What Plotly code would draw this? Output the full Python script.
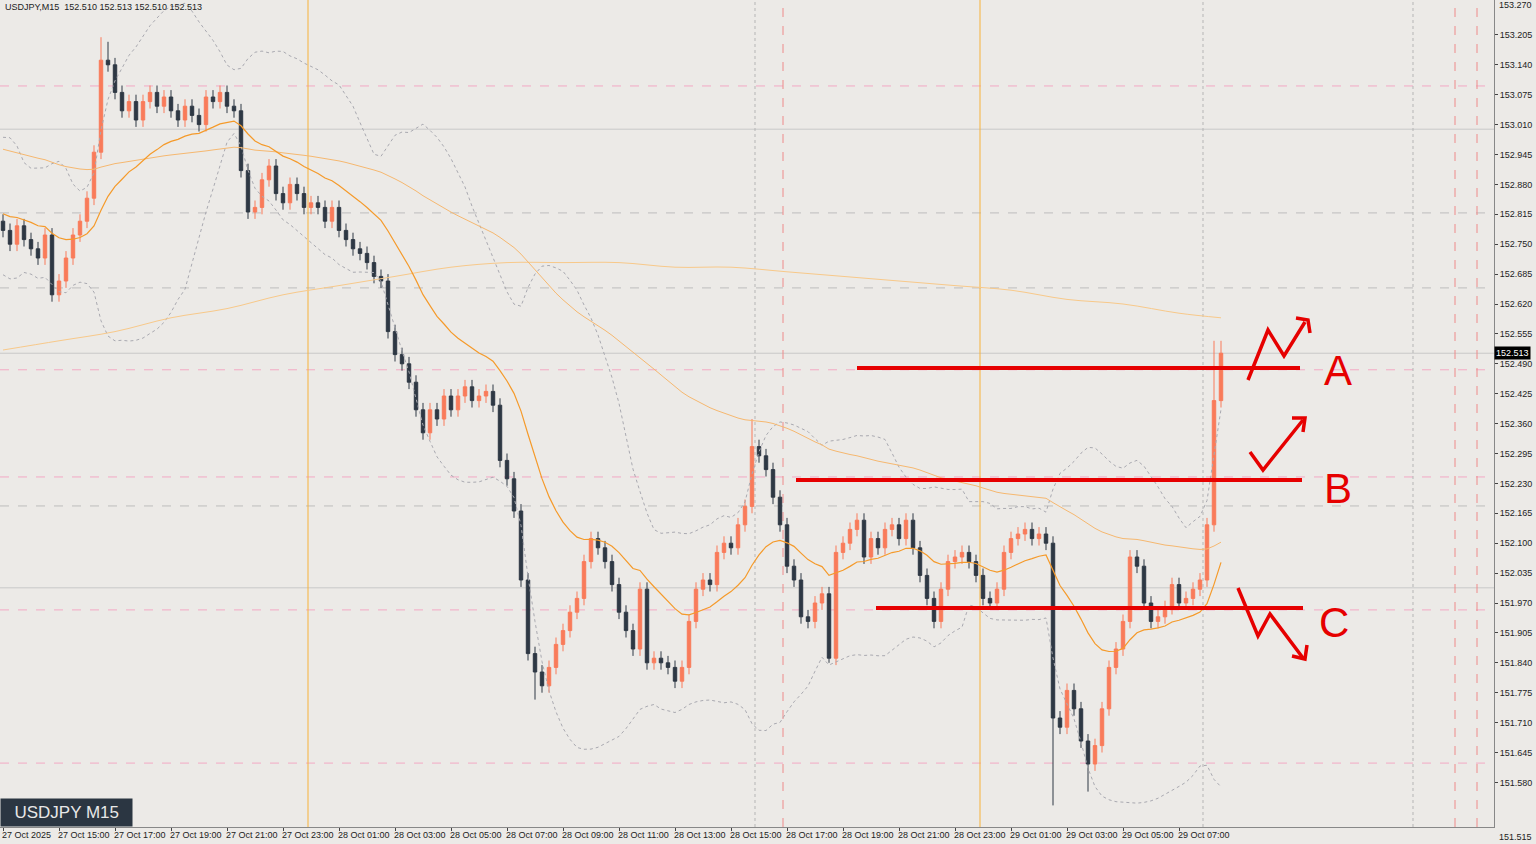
import numpy as np
import plotly.graph_objects as go

# USDJPY M15 closes (bar 0 = 27 Oct 13:00)
closes = [
    152.78, 152.75, 152.79, 152.76, 152.74, 152.72, 152.77, 152.64, 152.67, 152.72,
    152.77, 152.80, 152.85, 152.95, 153.15, 153.14, 153.08, 153.04, 153.06, 153.02,
    153.06, 153.08, 153.05, 153.07, 153.04, 153.02, 153.05, 153.03, 153.01, 153.07,
    153.06, 153.08, 153.05, 153.04, 152.91, 152.82, 152.83, 152.89, 152.92, 152.86,
    152.84, 152.88, 152.86, 152.83, 152.84, 152.83, 152.80, 152.83, 152.78, 152.76,
    152.74, 152.73, 152.71, 152.68, 152.67, 152.56, 152.51, 152.49, 152.45, 152.39,
    152.34, 152.39, 152.37, 152.42, 152.39, 152.42, 152.44, 152.41, 152.42, 152.43,
    152.40, 152.28, 152.24, 152.17, 152.02, 151.86, 151.82, 151.79, 151.83, 151.88,
    151.91, 151.95, 151.98, 152.06, 152.11, 152.09, 152.06, 152.01, 151.95, 151.91,
    151.87, 152.00, 151.84, 151.85, 151.84, 151.83, 151.80, 151.83, 151.93, 152.00,
    152.02, 152.01, 152.08, 152.10, 152.09, 152.14, 152.18, 152.31, 152.29, 152.26,
    152.20, 152.14, 152.05, 152.02, 151.94, 151.93, 151.97, 151.99, 151.85, 152.08,
    152.10, 152.13, 152.15, 152.07, 152.11, 152.09, 152.13, 152.14, 152.11, 152.15,
    152.09, 152.03, 151.98, 151.93, 152.00, 152.06, 152.07, 152.08, 152.06, 152.03,
    151.98, 151.97, 152.00, 152.08, 152.11, 152.12, 152.13, 152.11, 152.12, 152.10,
    151.72, 151.70, 151.78, 151.74, 151.67, 151.62, 151.66, 151.74, 151.83, 151.87,
    151.93, 152.07, 152.05, 151.97, 151.93, 151.94, 151.96, 152.01, 151.97, 151.98,
    152.00, 152.02, 152.14, 152.41, 152.513,
]
first_open = 152.80
wick = 0.015
high_overrides = {14: 153.20, 15: 153.19, 107: 152.37, 173: 152.54, 174: 152.54}
low_overrides = {76: 151.76, 150: 151.53, 155: 151.56, 118: 151.84}

# slow moving average, read every 8 bars
slow_x = [0, 8, 16, 24, 32, 40, 48, 56, 64, 72, 80, 88, 96, 104, 112, 120, 128, 136,
          144, 152, 160, 168, 174]
slow_ma = [152.52, 152.54, 152.56, 152.59, 152.61, 152.64, 152.66, 152.68, 152.70, 152.71,
           152.71, 152.71, 152.70, 152.70, 152.69, 152.68, 152.67, 152.66, 152.65, 152.63,
           152.62, 152.60, 152.59]

x_labels = ["27 Oct 2025", "27 Oct 15:00", "27 Oct 17:00", "27 Oct 19:00", "27 Oct 21:00",
            "27 Oct 23:00", "28 Oct 01:00", "28 Oct 03:00", "28 Oct 05:00", "28 Oct 07:00",
            "28 Oct 09:00", "28 Oct 11:00", "28 Oct 13:00", "28 Oct 15:00", "28 Oct 17:00",
            "28 Oct 19:00", "28 Oct 21:00", "28 Oct 23:00", "29 Oct 01:00", "29 Oct 03:00",
            "29 Oct 05:00", "29 Oct 07:00"]

price_ticks = [round(151.580 + 0.065 * k, 3) for k in range(26)]

pink_levels = [153.094, 152.477, 152.244, 151.955, 151.622]
grey_dash_levels = [152.818, 152.655, 152.181]
grey_solid_levels = [153.000, 152.513, 152.003]

W, H = 1536, 844
PLOT_R = 1494
PLOT_B = 827
FONT = "Liberation Sans"


def px_x(px):
    return (px - 3) / 7


def px_y(py):
    return 153.270 - (py - 5) / 460


closes = np.array(closes)
opens = np.concatenate([[first_open], closes[:-1]])
highs = np.maximum(opens, closes) + wick
lows = np.minimum(opens, closes) - wick
for k, v in high_overrides.items():
    highs[k] = v
for k, v in low_overrides.items():
    lows[k] = v
idx = np.arange(len(closes))


def ema(values, n, seed):
    out, prev = [], seed
    a = 2 / (n + 1)
    for v in values:
        prev = prev + a * (v - prev)
        out.append(prev)
    return np.array(out)


fast = ema(closes, 20, 152.82)
mid = ema(closes, 100, 152.96)
pre = np.concatenate([[152.85, 152.95, 153.0, 152.9, 152.8, 152.75, 152.7, 152.78, 152.9, 152.95,
                       152.88, 152.8, 152.82, 152.85, 152.8, 152.78, 152.75, 152.8, 152.82], closes])
bb_mid = np.array([pre[i:i + 20].mean() for i in range(len(closes))])
bb_sd = np.array([pre[i:i + 20].std() for i in range(len(closes))])

fig = go.Figure()
fig.add_trace(go.Scatter(x=idx, y=bb_mid + 2 * bb_sd, mode="lines",
                         line=dict(color="#A9A9B0", width=1, dash="dot"), hoverinfo="skip"))
fig.add_trace(go.Scatter(x=idx, y=bb_mid - 2 * bb_sd, mode="lines",
                         line=dict(color="#A9A9B0", width=1, dash="dot"), hoverinfo="skip"))
fig.add_trace(go.Scatter(x=slow_x, y=slow_ma, mode="lines", line_shape="spline",
                         line=dict(color="#F8C98A", width=1)))
fig.add_trace(go.Scatter(x=idx, y=mid, mode="lines", line=dict(color="#F6B870", width=1)))
fig.add_trace(go.Scatter(x=idx, y=fast, mode="lines", line=dict(color="#F59A2A", width=1.2)))
fig.add_trace(go.Candlestick(
    x=idx, open=opens, high=highs, low=lows, close=closes, whiskerwidth=0,
    increasing=dict(line=dict(color="#F97B5A", width=1), fillcolor="#F97B5A"),
    decreasing=dict(line=dict(color="#2E3844", width=1), fillcolor="#2E3844")))

shapes = []
for lv in pink_levels:
    shapes.append(dict(type="line", xref="paper", x0=0, x1=1, y0=lv, y1=lv,
                       line=dict(color="#F3A9C4", width=1, dash="dash"), layer="below"))
for lv in grey_dash_levels:
    shapes.append(dict(type="line", xref="paper", x0=0, x1=1, y0=lv, y1=lv,
                       line=dict(color="#BDBDBD", width=1, dash="dash"), layer="below"))
for lv in grey_solid_levels:
    shapes.append(dict(type="line", xref="paper", x0=0, x1=1, y0=lv, y1=lv,
                       line=dict(color="#C8C8C8", width=1), layer="below"))
for px in (308, 980):
    shapes.append(dict(type="line", yref="paper", x0=px_x(px), x1=px_x(px), y0=0, y1=1,
                       line=dict(color="#F7B23B", width=1), layer="below"))
for px in (755, 1203, 1413):
    shapes.append(dict(type="line", yref="paper", x0=px_x(px), x1=px_x(px), y0=0, y1=1,
                       line=dict(color="#B5B5B5", width=1, dash="dot"), layer="below"))
for px in (783, 1455, 1477):
    shapes.append(dict(type="line", yref="paper", x0=px_x(px), x1=px_x(px), y0=0, y1=1,
                       line=dict(color="#EE8A8A", width=1, dash="dash"), layer="below"))

# hand-drawn red marks
red = "#E60000"
for x0, x1, y in ((857, 1300, 368), (796, 1302, 480), (876, 1303, 608)):
    shapes.append(dict(type="line", x0=px_x(x0), x1=px_x(x1), y0=px_y(y), y1=px_y(y),
                       line=dict(color=red, width=4)))
strokes = [
    [(1248, 380), (1268, 330), (1284, 356), (1305, 322)],
    [(1296, 318), (1308, 320), (1310, 333)],
    [(1250, 452), (1263, 470), (1303, 420)],
    [(1292, 418), (1305, 418), (1303, 432)],
    [(1238, 588), (1258, 636), (1270, 614), (1303, 658)],
    [(1292, 656), (1305, 659), (1307, 645)],
]
for s in strokes:
    path = "M " + " L ".join(f"{px_x(a)},{px_y(b)}" for a, b in s)
    shapes.append(dict(type="path", path=path, line=dict(color=red, width=3.5)))

annotations = []
for letter, px, py in (("A", 1338, 370), ("B", 1338, 488), ("C", 1334, 622)):
    annotations.append(dict(x=px_x(px), y=px_y(py), text=letter, showarrow=False,
                            font=dict(family=FONT, size=42, color=red)))
for k, lab in enumerate(x_labels):
    annotations.append(dict(x=8 * k - 3 / 7, y=0, yref="paper", yanchor="top", xanchor="left",
                            text=lab, showarrow=False, yshift=-1,
                            font=dict(family=FONT, size=9, color="#222")))
annotations.append(dict(x=0.002, y=1, xref="paper", yref="paper", xanchor="left", yanchor="top",
                        text="USDJPY,M15  152.510 152.513 152.510 152.513", showarrow=False,
                        font=dict(family=FONT, size=9, color="#222")))
annotations.append(dict(x=1, y=152.513, xref="paper", xanchor="left", text="152.513",
                        showarrow=False, bgcolor="#000", borderpad=1,
                        font=dict(family=FONT, size=9, color="#fff")))
annotations.append(dict(x=0, y=0, xref="paper", yref="paper", xanchor="left", yanchor="bottom",
                        text="  USDJPY M15  ", showarrow=False, bgcolor="#2B3642", borderpad=4,
                        font=dict(family=FONT, size=17, color="#E8E8E8")))
annotations.append(dict(x=1, y=0, xref="paper", yref="paper", xanchor="left", yanchor="middle",
                        text="151.515", showarrow=False, xshift=3, yshift=-10,
                        font=dict(family=FONT, size=9, color="#222")))
annotations.append(dict(x=1, y=1, xref="paper", yref="paper", xanchor="left", yanchor="middle",
                        text="153.270", showarrow=False, xshift=3, yshift=-5,
                        font=dict(family=FONT, size=9, color="#222")))

fig.update_layout(
    width=W, height=H, showlegend=False, plot_bgcolor="#ECEAE7", paper_bgcolor="#ECEAE7",
    margin=dict(l=0, r=W - PLOT_R, t=0, b=H - PLOT_B, autoexpand=False),
    shapes=shapes, annotations=annotations,
    xaxis=dict(range=[px_x(0), px_x(PLOT_R)], showgrid=False, zeroline=False,
               showticklabels=False, rangeslider=dict(visible=False), showline=True,
               linecolor="#888", mirror=True, automargin=False,
               tickvals=[8 * k for k in range(len(x_labels))], ticks="outside", ticklen=3),
    yaxis=dict(range=[px_y(PLOT_B), px_y(0)], side="right", showgrid=False, zeroline=False,
               tickvals=price_ticks, tickformat=".3f", ticks="outside", ticklen=3,
               showline=True, linecolor="#888", mirror=True, automargin=False,
               tickfont=dict(family=FONT, size=9, color="#222")),
)

fig.write_html("out.html", config={"displayModeBar": False},
               post_script="document.body.style.margin='0';document.body.style.overflow='hidden';")
